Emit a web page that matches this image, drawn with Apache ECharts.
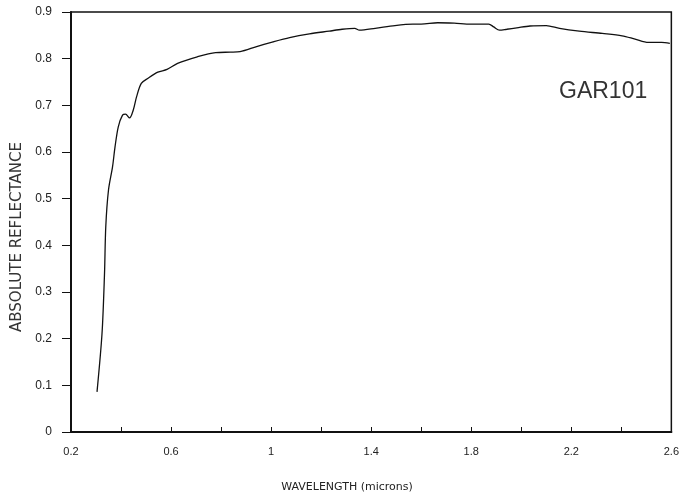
<!DOCTYPE html>
<html>
<head>
<meta charset="utf-8">
<script src="https://cdn.jsdelivr.net/npm/echarts@6/dist/echarts.min.js"></script>
<style>
  html, body { margin: 0; padding: 0; background: #fff; }
  #chart { width: 682px; height: 497px; }
</style>
</head>
<body>
<div id="chart"></div>
<script>
// Reflectance spectrum of sample GAR101
const wavelength = [
  0.304, 0.324, 0.334, 0.339, 0.350, 0.366, 0.376, 0.389, 0.406, 0.418,
  0.434, 0.449, 0.462, 0.481, 0.508, 0.547, 0.584, 0.626, 0.705, 0.778,
  0.837, 0.876, 0.942, 1.008, 1.074, 1.153, 1.232, 1.284, 1.334, 1.353,
  1.416, 1.495, 1.567, 1.600, 1.666, 1.732, 1.798, 1.870, 1.890, 1.913,
  1.942, 1.982, 2.035, 2.100, 2.153, 2.232, 2.324, 2.403, 2.455, 2.508,
  2.561, 2.594
];
const reflectance = [
  0.086, 0.211, 0.340, 0.440, 0.519, 0.568, 0.611, 0.654, 0.679, 0.681,
  0.673, 0.690, 0.718, 0.747, 0.758, 0.771, 0.777, 0.790, 0.804, 0.813,
  0.814, 0.815, 0.826, 0.836, 0.845, 0.853, 0.859, 0.863, 0.865, 0.861,
  0.865, 0.871, 0.874, 0.874, 0.877, 0.876, 0.874, 0.874, 0.868, 0.861,
  0.863, 0.866, 0.870, 0.871, 0.865, 0.859, 0.854, 0.849, 0.842, 0.835,
  0.835, 0.833
];
const sampleName = 'GAR101';
const xTitle = 'WAVELENGTH (microns)';
const yTitle = 'ABSOLUTE REFLECTANCE';
const xLabeled = [0.2, 0.6, 1, 1.4, 1.8, 2.2, 2.6];

const points = wavelength.map((w, i) => [w, reflectance[i]]);
const chart = echarts.init(document.getElementById('chart'));
const font = 'Liberation Sans, Arial, sans-serif';

chart.setOption({
  animation: false,
  backgroundColor: '#fff',
  grid: {
    left: 71, right: 2, top: 12, bottom: 65,
    show: true, borderColor: '#111', borderWidth: 1.5, backgroundColor: 'transparent'
  },
  xAxis: {
    type: 'value', min: 0.2, max: 2.6, interval: 0.2,
    axisLine: { show: true, lineStyle: { color: '#111', width: 2 } },
    axisTick: { show: true, inside: true, length: 5, lineStyle: { color: '#111', width: 1 } },
    splitLine: { show: false },
    axisLabel: {
      margin: 14, color: '#222', fontFamily: font, fontSize: 11,
      showMinLabel: true, showMaxLabel: true,
      formatter: v => {
        const r = Math.round(v * 10) / 10;
        return xLabeled.some(t => Math.abs(t - r) < 1e-6) ? String(r) : '';
      }
    }
  },
  yAxis: {
    type: 'value', min: 0, max: 0.9, interval: 0.1,
    axisLine: { show: true, lineStyle: { color: '#111', width: 2 } },
    axisTick: { show: true, inside: false, length: 9, lineStyle: { color: '#111', width: 1 } },
    splitLine: { show: false },
    axisLabel: {
      margin: 19, color: '#222', fontFamily: font, fontSize: 12,
      showMinLabel: true, showMaxLabel: true,
      formatter: v => (v === 0 ? '0' : (Math.round(v * 10) / 10).toFixed(1))
    }
  },
  graphic: [
    {
      type: 'text', left: 559, top: 80,
      style: { text: sampleName, font: '23px ' + font, fill: '#333' }
    },
    {
      type: 'text', x: 347, y: 487,
      style: { text: xTitle, font: '11px DejaVu Sans, sans-serif', fill: '#222', align: 'center', verticalAlign: 'middle' }
    },
    {
      type: 'text', x: 17, y: 237, rotation: Math.PI / 2,
      style: { text: yTitle, font: '15px DejaVu Sans, sans-serif', fill: '#333', align: 'center', verticalAlign: 'middle' }
    }
  ],
  series: [{
    type: 'line',
    data: points,
    showSymbol: false,
    smooth: 0.3,
    lineStyle: { color: '#111', width: 1.3 }
  }]
});
</script>
</body>
</html>
